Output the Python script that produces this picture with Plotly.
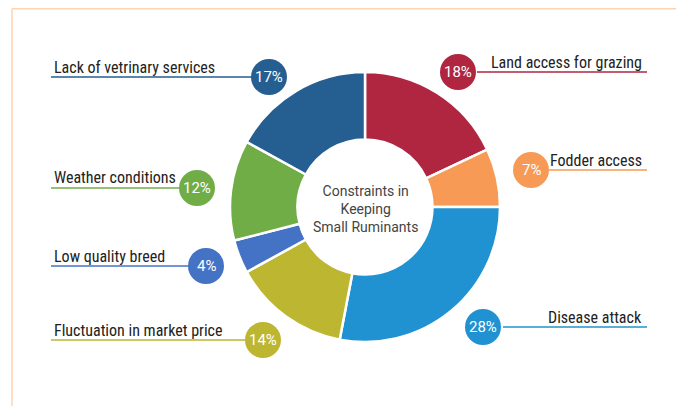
import plotly.graph_objects as go

# page body has an 8px margin, so the figure is drawn 8px in and 8px smaller
OFF = 8
W, H = 684 - OFF, 406 - OFF

categories = ["Land access for grazing", "Fodder access", "Disease attack",
              "Fluctuation in market price", "Low quality breed",
              "Weather conditions", "Lack of vetrinary services"]
values = [18, 7, 28, 14, 4, 12, 17]
colors = ["#B02641", "#F79A55", "#2092D2", "#BDB631", "#4472C4", "#70AD47", "#255E91"]
center_title = "Constraints in<br>Keeping<br>Small Ruminants"

# label layout (pixel positions in the window): bubble centre, underline extent, side
bubble_pos = [(458, 72), (531, 170), (483, 327), (263, 340), (206, 266), (197, 188), (269, 77)]
line_ext = [(477, 647), (549, 647), (503, 647), (51, 246), (51, 188), (51, 180), (51, 252)]
sides = ["right", "right", "right", "left", "left", "left", "left"]

LABEL_FONT = "Liberation Sans Narrow, Roboto Condensed, Roboto, sans-serif"


def px(x):
    return (x - OFF) / W


def py(y):
    return 1 - (y - OFF) / H


cx, cy, R = 365, 207, 135

fig = go.Figure(go.Pie(
    labels=categories, values=values, sort=False, direction="clockwise", rotation=0,
    hole=0.5, marker=dict(colors=colors, line=dict(color="white", width=2.5)),
    textinfo="none", hoverinfo="label+percent", showlegend=False,
    domain=dict(x=[px(cx - R), px(cx + R)], y=[py(cy + R), py(cy - R)]),
))

shapes = []
annotations = []
# frame lines (top one as high as the page allows)
shapes.append(dict(type="line", xref="paper", yref="paper", x0=px(12), x1=px(684), y0=py(8.8), y1=py(8.8),
                   line=dict(color="#FFD3B0", width=1.5)))
shapes.append(dict(type="line", xref="paper", yref="paper", x0=px(12), x1=px(12), y0=py(8.8), y1=py(406),
                   line=dict(color="#FFD3B0", width=1.5)))

r = 18
for cat, v, col, (bx, by), (lx0, lx1), side in zip(categories, values, colors, bubble_pos, line_ext, sides):
    shapes.append(dict(type="line", xref="paper", yref="paper", x0=px(lx0), x1=px(lx1),
                       y0=py(by), y1=py(by), line=dict(color=col, width=1.5)))
    shapes.append(dict(type="circle", xref="paper", yref="paper", x0=px(bx - r), x1=px(bx + r),
                       y0=py(by + r), y1=py(by - r), fillcolor=col, line=dict(color=col, width=0)))
    annotations.append(dict(x=px(bx), y=py(by), xref="paper", yref="paper", text=f"{v}%",
                            showarrow=False, xanchor="center", yanchor="middle",
                            font=dict(family="Roboto", size=15, color="white")))
    if side == "left":
        annotations.append(dict(x=px(lx0 + 1), y=py(by - 10), xref="paper", yref="paper", text=cat,
                                showarrow=False, xanchor="left", yanchor="middle",
                                font=dict(family=LABEL_FONT, size=16, color="#222222")))
    else:
        annotations.append(dict(x=px(lx1 - 3), y=py(by - 10), xref="paper", yref="paper", text=cat,
                                showarrow=False, xanchor="right", yanchor="middle",
                                font=dict(family=LABEL_FONT, size=16, color="#222222")))

annotations.append(dict(x=px(cx), y=py(209), xref="paper", yref="paper", text=center_title,
                        showarrow=False, xanchor="center", yanchor="middle",
                        font=dict(family="Roboto", size=14, color="#444444")))

fig.update_layout(width=W, height=H, margin=dict(l=0, r=0, t=0, b=0),
                  paper_bgcolor="white", plot_bgcolor="white",
                  shapes=shapes, annotations=annotations)

fig.write_html("out.html")
